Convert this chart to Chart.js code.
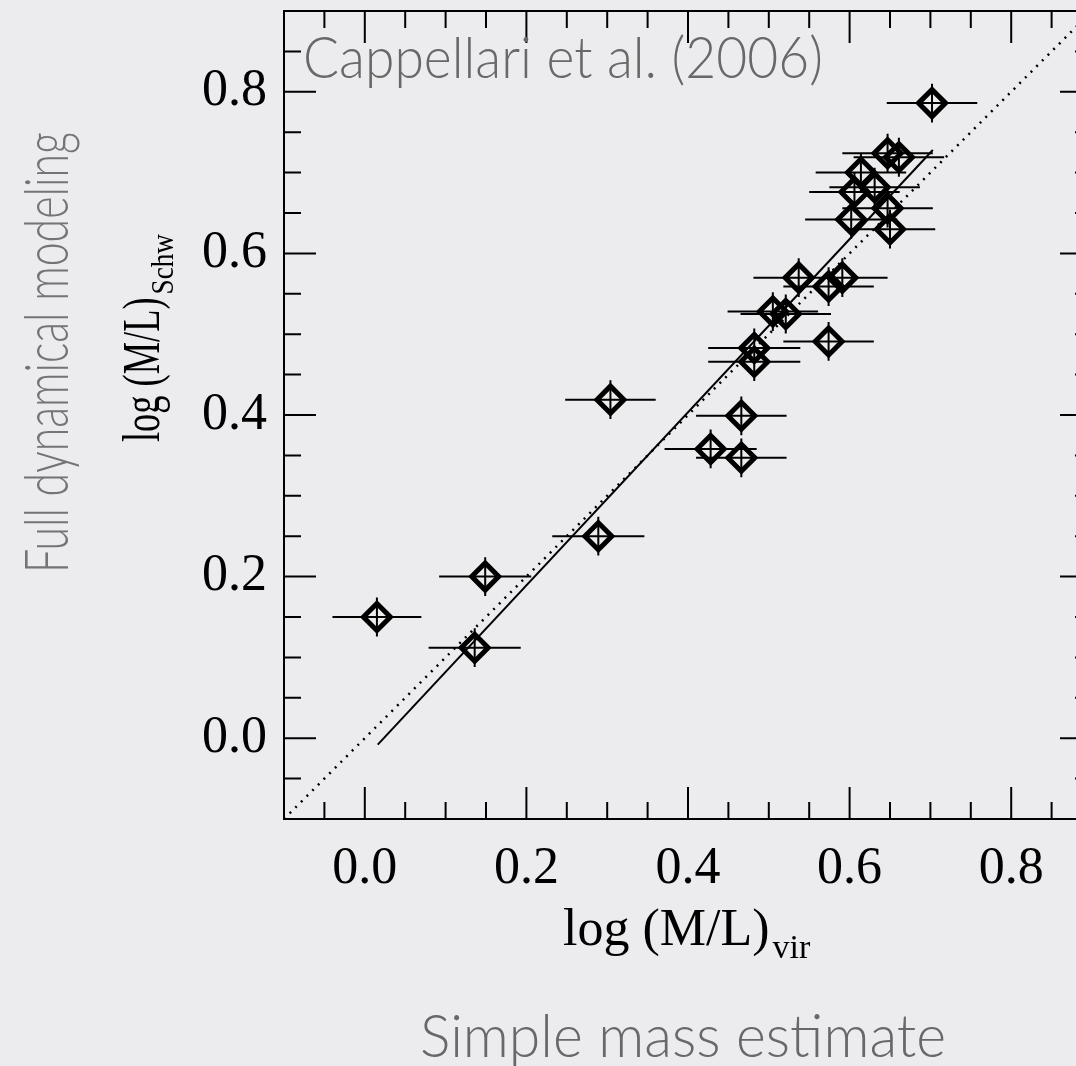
<!DOCTYPE html>
<html>
<head>
<meta charset="utf-8">
<script src="https://cdn.jsdelivr.net/npm/chart.js@4.4.1/dist/chart.umd.min.js"></script>
<style>
  html, body { margin: 0; padding: 0; overflow: hidden; background: #ececef; }
  #wrap { width: 1076px; height: 1066px; overflow: hidden; }
  canvas { display: block; }
</style>
</head>
<body>
<div id="wrap"><canvas id="mlChart" width="1120" height="1066"></canvas></div>
<script>
// log (M/L)_vir vs log (M/L)_Schw
const obsX = [0.015, 0.136, 0.149, 0.289, 0.304, 0.428, 0.466, 0.466, 0.482, 0.482, 0.505, 0.521, 0.537,
              0.574, 0.591, 0.574, 0.602, 0.650, 0.606, 0.647, 0.631, 0.614, 0.647, 0.661, 0.702];
const obsY = [0.150, 0.112, 0.200, 0.250, 0.419, 0.358, 0.399, 0.347, 0.483, 0.466, 0.528, 0.525, 0.570,
              0.559, 0.570, 0.491, 0.642, 0.630, 0.676, 0.656, 0.682, 0.700, 0.724, 0.719, 0.786];
const errX = [0.055, 0.057, 0.057, 0.057, 0.056, 0.057, 0.056, 0.056, 0.057, 0.057, 0.056, 0.056, 0.056,
              0.056, 0.056, 0.056, 0.057, 0.056, 0.056, 0.056, 0.056, 0.056, 0.056, 0.056, 0.056];
const errY = [0.024, 0.024, 0.024, 0.024, 0.024, 0.024, 0.024, 0.024, 0.024, 0.024, 0.024, 0.024, 0.024,
              0.024, 0.024, 0.024, 0.024, 0.024, 0.024, 0.024, 0.024, 0.024, 0.024, 0.024, 0.024];

// one-to-one line and the fitted line
const oneToOneX = [-0.1, 0.9];
const oneToOneY = [-0.1, 0.9];
const fitX = [0.016, 0.703];
const fitY = [-0.008, 0.728];

const majorTicks = [0, 0.2, 0.4, 0.6, 0.8];
const minorTicks = [-0.05, 0.05, 0.1, 0.15, 0.25, 0.3, 0.35, 0.45, 0.5, 0.55, 0.65, 0.7, 0.75, 0.85];
const tickLabels = ["0.0", "0.2", "0.4", "0.6", "0.8"];

const serif = '"Liberation Serif", "Times New Roman", serif';
const sans = 'Lato, "Open Sans", sans-serif';

// frame plus inward tick marks on all four sides
const frameTicks = {
  id: "frameTicks",
  afterDraw(chart) {
    const { ctx, chartArea: a, scales: { x, y } } = chart;
    ctx.save();
    ctx.strokeStyle = "#000";
    ctx.lineWidth = 2;
    ctx.strokeRect(a.left, a.top, a.right - a.left, a.bottom - a.top);
    const mark = (v, len) => {
      const px = x.getPixelForValue(v);
      const py = y.getPixelForValue(v);
      ctx.moveTo(px, a.bottom); ctx.lineTo(px, a.bottom - len);
      ctx.moveTo(px, a.top); ctx.lineTo(px, a.top + len);
      ctx.moveTo(a.left, py); ctx.lineTo(a.left + len, py);
      ctx.moveTo(a.right, py); ctx.lineTo(a.right - len, py);
    };
    ctx.beginPath();
    majorTicks.forEach(v => mark(v, 32));
    minorTicks.forEach(v => mark(v, 17));
    ctx.stroke();
    ctx.restore();
  }
};

const errorBars = {
  id: "errorBars",
  beforeDatasetsDraw(chart) {
    const { ctx, scales: { x, y } } = chart;
    ctx.save();
    ctx.strokeStyle = "#000";
    ctx.lineWidth = 2;
    ctx.beginPath();
    obsX.forEach((v, i) => {
      const px = x.getPixelForValue(v);
      const py = y.getPixelForValue(obsY[i]);
      ctx.moveTo(x.getPixelForValue(v - errX[i]), py);
      ctx.lineTo(x.getPixelForValue(v + errX[i]), py);
      ctx.moveTo(px, y.getPixelForValue(obsY[i] - errY[i]));
      ctx.lineTo(px, y.getPixelForValue(obsY[i] + errY[i]));
    });
    ctx.stroke();
    ctx.restore();
  }
};

function fitText(ctx, text, x, y, width, font, rotate) {
  ctx.font = font;
  const w = ctx.measureText(text).width;
  ctx.save();
  ctx.translate(x, y);
  if (rotate) ctx.rotate(-Math.PI / 2);
  ctx.scale(width / w, 1);
  ctx.fillText(text, 0, 0);
  ctx.restore();
}

// axis titles with subscripts + the grey slide captions
const labels = {
  id: "labels",
  afterDraw(chart) {
    const ctx = chart.ctx;
    ctx.save();
    ctx.textAlign = "left";
    ctx.textBaseline = "alphabetic";

    ctx.fillStyle = "#000";
    ctx.font = "52px " + serif;
    ctx.fillText("log (M/L)", 563, 945);
    const mw = ctx.measureText("log (M/L)").width;
    ctx.font = "34px " + serif;
    ctx.fillText("vir", 563 + mw + 3, 958);

    ctx.save();
    ctx.translate(159, 442);
    ctx.rotate(-Math.PI / 2);
    ctx.save();
    ctx.scale(0.7, 1);
    ctx.font = "52px " + serif;
    ctx.fillText("log (M/L)", 0, 0);
    ctx.restore();
    ctx.font = "32px " + serif;
    ctx.save();
    ctx.translate(mw * 0.7 + 3, 14);
    ctx.scale(0.85, 1);
    ctx.fillText("Schw", 0, 0);
    ctx.restore();
    ctx.restore();

    ctx.fillStyle = "#686868";
    fitText(ctx, "Cappellari et al. (2006)", 303, 78, 520, "300 57px " + sans);
    fitText(ctx, "Simple mass estimate", 420, 1057, 526, "300 60px " + sans);
    ctx.fillStyle = "#747474";
    fitText(ctx, "Full dynamical modeling", 68, 573, 441, "300 62px " + sans, true);
    ctx.restore();
  }
};

const tickOpts = {
  color: "#000",
  font: { family: serif, size: 52 },
  callback: v => tickLabels[majorTicks.findIndex(t => Math.abs(t - v) < 1e-6)] || ""
};

const ctx = document.getElementById("mlChart").getContext("2d");
new Chart(ctx, {
  type: "scatter",
  data: {
    datasets: [
      {
        type: "line",
        data: oneToOneX.map((v, i) => ({ x: v, y: oneToOneY[i] })),
        borderColor: "#000",
        borderWidth: 2.5,
        borderDash: [2, 6],
        pointRadius: 0,
        fill: false
      },
      {
        type: "line",
        data: fitX.map((v, i) => ({ x: v, y: fitY[i] })),
        borderColor: "#000",
        borderWidth: 2,
        pointRadius: 0,
        fill: false
      },
      {
        data: obsX.map((v, i) => ({ x: v, y: obsY[i] })),
        pointStyle: "rectRot",
        pointRadius: 13.5,
        borderWidth: 5,
        borderColor: "#000",
        backgroundColor: "rgba(0,0,0,0)"
      }
    ]
  },
  options: {
    responsive: false,
    animation: false,
    events: [],
    layout: { autoPadding: false, padding: { top: 11, right: 28, bottom: 147, left: 0 } },
    plugins: { legend: { display: false }, tooltip: { enabled: false } },
    scales: {
      x: {
        type: "linear",
        min: -0.1,
        max: 0.9,
        grid: { display: false, drawTicks: false },
        border: { display: false },
        ticks: { ...tickOpts, padding: 19, maxRotation: 0 },
        afterBuildTicks: s => { s.ticks = majorTicks.map(v => ({ value: v })); },
        afterFit: s => { s.height = 100; s.paddingLeft = 0; s.paddingRight = 0; }
      },
      y: {
        type: "linear",
        min: -0.1,
        max: 0.9,
        grid: { display: false, drawTicks: false },
        border: { display: false },
        ticks: { ...tickOpts, padding: 17 },
        afterBuildTicks: s => { s.ticks = majorTicks.map(v => ({ value: v })); },
        afterFit: s => { s.width = 284; s.paddingTop = 0; s.paddingBottom = 0; }
      }
    }
  },
  plugins: [errorBars, frameTicks, labels]
});
</script>
</body>
</html>
